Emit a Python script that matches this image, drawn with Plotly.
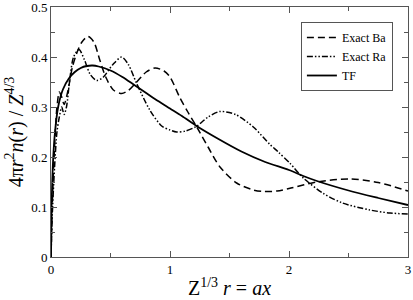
import plotly.graph_objects as go

# Thomas-Fermi curve
tf_x = [0, 0.005, 0.015, 0.03, 0.06, 0.1, 0.15, 0.2, 0.25, 0.3, 0.35, 0.4, 0.5, 0.6, 0.7, 0.8, 0.9,
        1.0, 1.1, 1.23, 1.4, 1.6, 1.8, 2.0, 2.12, 2.235, 2.5, 2.75, 3.0]
tf_y = [0, 0.1, 0.18, 0.24, 0.3, 0.335, 0.357, 0.37, 0.378, 0.382, 0.383, 0.381, 0.373, 0.36, 0.344, 0.328, 0.312,
        0.297, 0.282, 0.261, 0.237, 0.211, 0.19, 0.174, 0.162, 0.152, 0.133, 0.118, 0.104]

# Exact Ba
ba_x = [0, 0.01, 0.03, 0.05, 0.07, 0.09, 0.11, 0.14, 0.18, 0.22, 0.26, 0.31, 0.36, 0.41, 0.46, 0.524, 0.594,
        0.65, 0.72, 0.8, 0.874, 0.95, 1.0, 1.084, 1.15, 1.23, 1.32, 1.42, 1.56, 1.7, 1.78, 1.9, 2.0,
        2.235, 2.51, 2.75, 3.0]
ba_y = [0, 0.1, 0.22, 0.3, 0.33, 0.32, 0.305, 0.33, 0.38, 0.41, 0.43, 0.441, 0.43, 0.394, 0.36, 0.334, 0.327,
        0.333, 0.35, 0.37, 0.378, 0.372, 0.36, 0.318, 0.29, 0.258, 0.22, 0.18, 0.148, 0.134, 0.131, 0.132, 0.137,
        0.15, 0.156, 0.149, 0.132]

# Exact Ra
ra_x = [0, 0.01, 0.03, 0.05, 0.07, 0.09, 0.11, 0.13, 0.16, 0.19, 0.235, 0.28, 0.33, 0.384, 0.44, 0.52, 0.594,
        0.65, 0.72, 0.83, 0.93, 1.0, 1.056, 1.13, 1.22, 1.32, 1.42, 1.55, 1.7, 1.84, 1.91, 2.01, 2.12, 2.29,
        2.45, 2.68, 2.85, 3.0]
ra_y = [0, 0.08, 0.18, 0.25, 0.28, 0.3, 0.285, 0.3, 0.36, 0.4, 0.415, 0.395, 0.365, 0.353, 0.36, 0.385, 0.4,
        0.385, 0.347, 0.294, 0.262, 0.254, 0.25, 0.252, 0.261, 0.28, 0.291, 0.285, 0.26, 0.225, 0.21, 0.187,
        0.158, 0.127, 0.108, 0.094, 0.088, 0.086]

x_ticks = [0, 1, 2, 3]
y_ticks = [0, 0.1, 0.2, 0.3, 0.4, 0.5]
y_tick_labels = ["0", "0.1", "0.2", "0.3", "0.4", "0.5"]

SERIF = "Liberation Serif, Times New Roman, Times, serif"

fig = go.Figure()
fig.add_trace(go.Scatter(x=ba_x, y=ba_y, mode="lines", name="Exact Ba",
                         line=dict(color="black", width=1.5, dash="7px,4px", shape="spline", smoothing=0.8)))
fig.add_trace(go.Scatter(x=ra_x, y=ra_y, mode="lines", name="Exact Ra",
                         line=dict(color="black", width=1.5, dash="6px,2px,1.5px,2px,1.5px,2px",
                                   shape="spline", smoothing=0.8)))
fig.add_trace(go.Scatter(x=tf_x, y=tf_y, mode="lines", name="TF",
                         line=dict(color="black", width=1.8, shape="spline", smoothing=0.8)))

axis_common = dict(showgrid=False, zeroline=False, showline=True, linecolor="#555", linewidth=1,
                   mirror="ticks", ticks="inside", ticklen=6, tickcolor="#555", tickwidth=1,
                   automargin=False, ticklabeloverflow="allow",
                   tickfont=dict(family=SERIF, size=13, color="black"))

fig.update_xaxes(range=[0, 3], tickvals=x_ticks, ticktext=[str(v) for v in x_ticks],
                 minor=dict(dtick=0.5, ticks="inside", ticklen=4, tickcolor="#555"),
                 title=dict(text="Z<sup>1/3</sup> <i>r</i> = <i>ax</i>",
                            font=dict(family=SERIF, size=20, color="black"), standoff=5),
                 **axis_common)
fig.update_yaxes(range=[0, 0.5], tickvals=y_ticks, ticktext=y_tick_labels,
                 minor=dict(dtick=0.05, ticks="inside", ticklen=4, tickcolor="#555"),
                 title=dict(text="4π<i>r</i><sup>2</sup><i>n</i>(<i>r</i>) / <i>Z</i><sup>4/3</sup>",
                            font=dict(family=SERIF, size=20, color="black"), standoff=2),
                 **axis_common)

fig.update_layout(
    width=413, height=300,
    margin=dict(l=51, r=5, t=7, b=43, autoexpand=False),
    paper_bgcolor="white", plot_bgcolor="white",
    showlegend=True,
    legend=dict(x=0.70, y=0.94, xanchor="left", yanchor="top",
                bgcolor="white", bordercolor="#555", borderwidth=1,
                font=dict(family=SERIF, size=12, color="black"),
                tracegroupgap=0, itemwidth=30),
)

# remove the default page margin so the figure fills the 413x300 window exactly
fig.write_html("out.html", config={"displayModeBar": False},
               post_script="document.body.style.margin='0';")
